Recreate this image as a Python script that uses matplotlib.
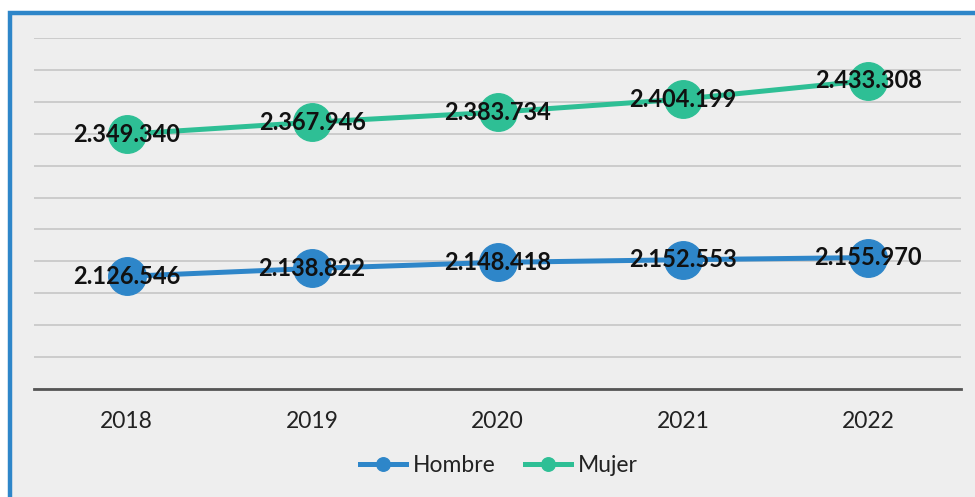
import matplotlib.pyplot as plt
from matplotlib.patches import Rectangle

years = ["2018", "2019", "2020", "2021", "2022"]
hombre = [2126546, 2138822, 2148418, 2152553, 2155970]
mujer = [2349340, 2367946, 2383734, 2404199, 2433308]

blue = "#2e86c9"
green = "#2ebf95"
bg = "#eeeeee"

plt.rcParams['font.family'] = ['Lato', 'DejaVu Sans']

fig = plt.figure(figsize=(9.75, 4.97), dpi=100)
fig.patch.set_facecolor("white")

# fondo gris con borde azul (arriba e izquierda)
fig.patches.append(Rectangle((10 / 975, -0.05), 1.1, 1 - 12.5 / 497 + 0.05,
                             transform=fig.transFigure, facecolor=bg,
                             edgecolor=blue, linewidth=3.2, zorder=-5))

ax = fig.add_axes([34 / 975, 1 - 389 / 497, 927 / 975, (389 - 38) / 497])
ax.patch.set_alpha(0)

x = list(range(len(years)))
ax.plot(x, hombre, color=blue, linewidth=3.6, marker="o", markersize=27,
        label="Hombre", zorder=3)
ax.plot(x, mujer, color=green, linewidth=3.6, marker="o", markersize=27,
        label="Mujer", zorder=3)

for xi, v in zip(x, hombre):
    ax.text(xi, v, f"{v:,}".replace(",", "."), ha="center", va="center",
            fontsize=17, fontweight="bold", color="#111111", zorder=4)
for xi, v in zip(x, mujer):
    ax.text(xi, v, f"{v:,}".replace(",", "."), ha="center", va="center",
            fontsize=17, fontweight="bold", color="#111111", zorder=4)

ax.set_xlim(-0.5, 4.5)
ax.set_ylim(1950000, 2500000)
ax.set_yticks(range(1950000, 2500001, 50000))
ax.yaxis.grid(True, color="#c6c6c6", linewidth=1.2)
ax.set_axisbelow(True)
ax.tick_params(axis="y", left=False, labelleft=False)
ax.tick_params(axis="x", length=0, pad=16, labelsize=16.5, labelcolor="#222222")
ax.set_xticks(x)
ax.set_xticklabels(years)
for s in ["top", "right", "left"]:
    ax.spines[s].set_visible(False)
ax.spines["bottom"].set_color("#555555")
ax.spines["bottom"].set_linewidth(2)

leg = fig.legend(loc="center", bbox_to_anchor=(499 / 975, 1 - 466 / 497), ncol=2,
                 frameon=False, fontsize=16.5, markerscale=0.36,
                 handlelength=2.0, columnspacing=1.3, handletextpad=0.3)
for t in leg.get_texts():
    t.set_color("#222222")

fig.savefig("out.png", dpi=100, facecolor=fig.get_facecolor())
